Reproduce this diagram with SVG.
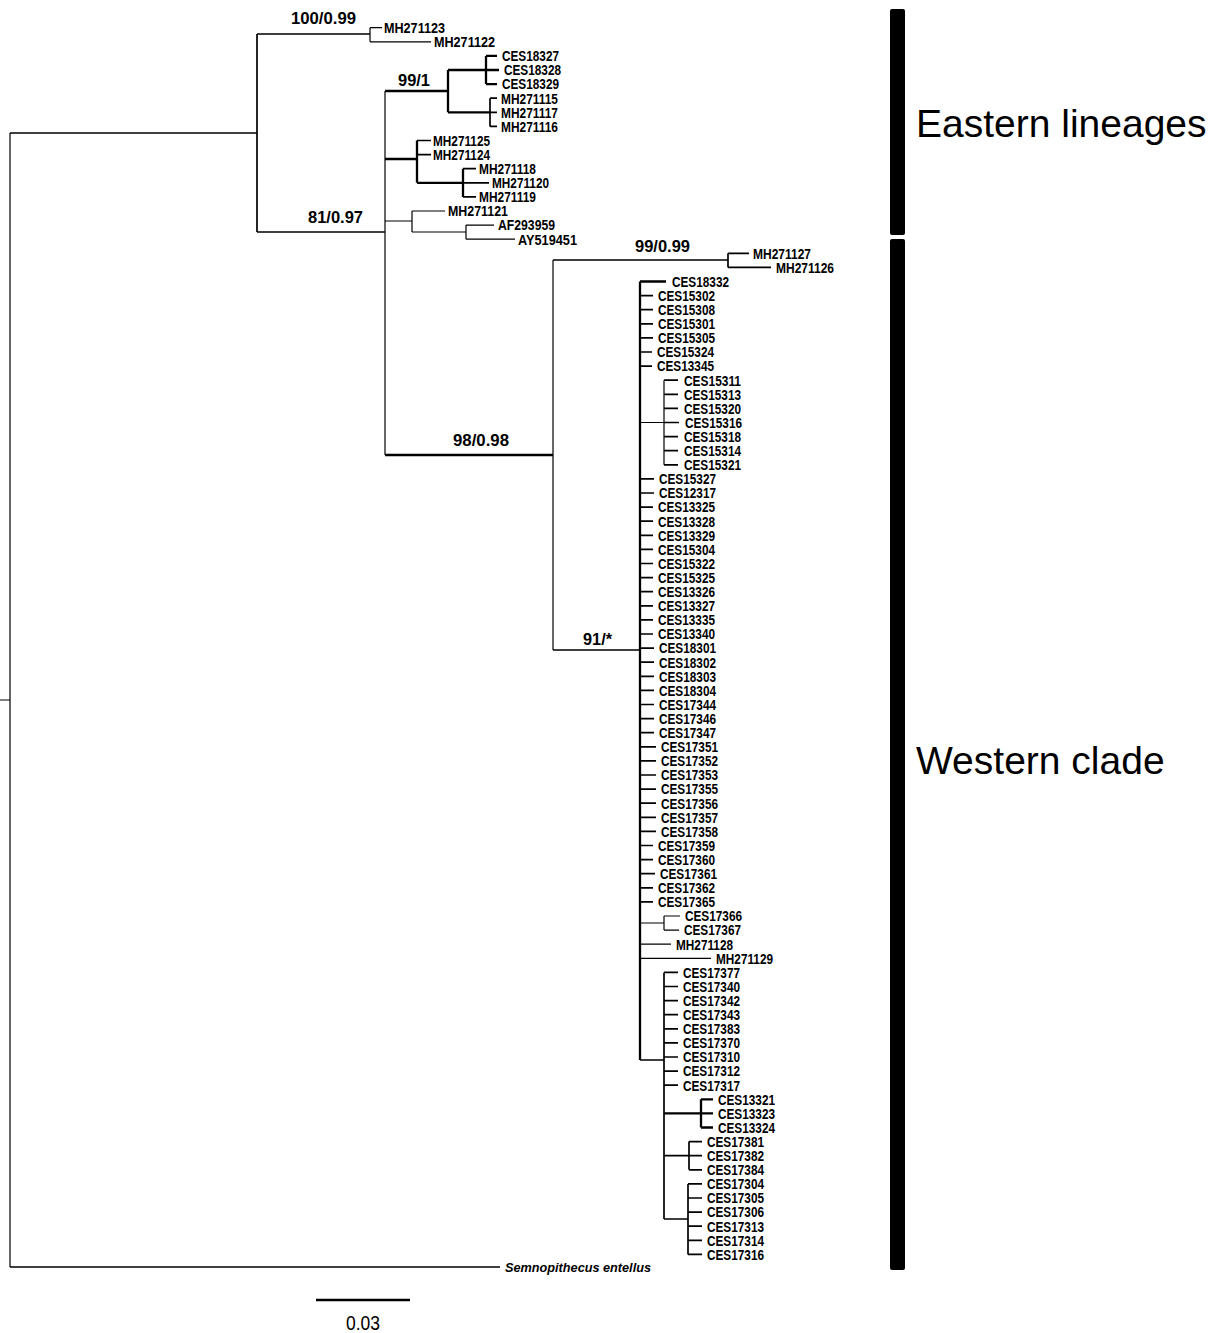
<svg xmlns="http://www.w3.org/2000/svg" width="1218" height="1333" viewBox="0 0 1218 1333">
<style>
.b{fill:none;stroke:#000;stroke-width:1.7}
.t{fill:none;stroke:#000;stroke-width:1.2}
.k{fill:none;stroke:#000;stroke-width:2.3}
.lf{font-family:"Liberation Sans Narrow","Liberation Sans",Arial,sans-serif;font-weight:bold;font-size:14.5px;fill:#000}
.bs{font-family:"Liberation Sans Narrow","Liberation Sans",Arial,sans-serif;font-weight:bold;font-size:16.5px;fill:#000}
.cl{font-family:"Liberation Sans",Arial,sans-serif;font-size:39px;fill:#000}
.sp{font-family:"Liberation Sans Narrow","Liberation Sans",Arial,sans-serif;font-weight:bold;font-style:italic;font-size:13.5px;fill:#000}
.sc{font-family:"Liberation Sans Narrow","Liberation Sans",Arial,sans-serif;font-size:20px;fill:#000}
</style>
<rect width="1218" height="1333" fill="#fff"/>
<g id="connectors">
<path class="t" d="M0 700H10M10 133V1267"/>
<path class="b" d="M10 133H257M10 1267H500M257 34V232M257 34H370M257 232H385"/>
<path class="t" d="M370 27.7V41.8M370 27.7H382M370 41.8H431"/>
<path class="t" d="M385 91V455"/>
<path class="k" d="M385 91H448M448 70V112.3M448 70H486M448 112.3H490M486 55.9V84.1M486 55.9H497M486 70H499M486 84.1H497"/>
<path class="b" d="M490 98.2V126.4M490 98.2H497M490 112.3H497M490 126.4H497"/>
<path class="k" d="M385 159H417M417 140.5V182.8M417 182.8H463M463 168.7V196.9"/>
<path class="b" d="M417 140.5H431M417 154.6H431M463 168.7H476M463 182.8H489M463 196.9H476"/>
<path class="t" d="M385 221H412M412 211V232M412 211H445M412 232H466M466 225.1V239.2M466 225.1H494M466 239.2H515"/>
<path class="k" d="M385 455H553"/>
<path class="t" d="M553 260V650"/>
<path class="b" d="M553 260H728M553 650H640M728 253.3V267.4M728 253.3H749M728 267.4H771"/>
<path class="k" d="M640 281.5V1060M640 281.5H666"/>
<path class="b" d="M640 295.6H653M640 309.7H653M640 323.8H653M640 337.9H653M640 352H652M640 366.1H652"/>
<path class="t" d="M640 422.5H664M664 380.2V464.8"/>
<path class="b" d="M664 380.2H678M664 394.3H678M664 408.4H678M664 422.5H679M664 436.6H678M664 450.7H678M664 464.8H678"/>
<path class="b" d="M640 478.9H654M640 493H654M640 507.1H653M640 521.2H653M640 535.3H653M640 549.4H653M640 563.5H653M640 577.6H653M640 591.7H653M640 605.8H653M640 619.9H653M640 634H653M640 648.1H654M640 662.2H654M640 676.3H654M640 690.4H654M640 704.5H654M640 718.6H654M640 732.7H654M640 746.8H656M640 760.9H656M640 775H656M640 789.1H656M640 803.2H656M640 817.3H656M640 831.4H656M640 845.5H653M640 859.6H653M640 873.7H655M640 887.8H653M640 901.9H653"/>
<path class="t" d="M640 923H664M664 916V930.1M664 916H680M664 930.1H679"/>
<path class="t" d="M640 944.2H671M640 958.3H711"/>
<path class="b" d="M640 1060H664M664 972.4V1219"/>
<path class="b" d="M664 972.4H678M664 986.5H678M664 1000.6H678M664 1014.7H678M664 1028.8H678M664 1042.9H678M664 1057H678M664 1071.1H678M664 1085.2H678"/>
<path class="k" d="M664 1113.4H701M701 1099.3V1127.5M701 1099.3H713M701 1113.4H713M701 1127.5H713"/>
<path class="b" d="M664 1155.7H689M689 1141.6V1169.8M689 1141.6H702M689 1155.7H702M689 1169.8H702"/>
<path class="b" d="M664 1219H688M688 1183.9V1254.4M688 1183.9H702M688 1198H702M688 1212.1H702M688 1226.2H702M688 1240.3H702M688 1254.4H702"/>
<path class="k" d="M316 1300H410"/>
</g>
<g id="support-values">
<text class="bs" x="291" y="24" textLength="65" lengthAdjust="spacingAndGlyphs">100/0.99</text>
<text class="bs" x="398" y="86" textLength="32" lengthAdjust="spacingAndGlyphs">99/1</text>
<text class="bs" x="308" y="223" textLength="55" lengthAdjust="spacingAndGlyphs">81/0.97</text>
<text class="bs" x="635" y="252" textLength="55" lengthAdjust="spacingAndGlyphs">99/0.99</text>
<text class="bs" x="453" y="446" textLength="56" lengthAdjust="spacingAndGlyphs">98/0.98</text>
<text class="bs" x="583" y="645" textLength="29" lengthAdjust="spacingAndGlyphs">91/*</text>
</g>
<g id="leaves">
<g id="n-MH271123"><text class="lf" x="384" y="33" textLength="61" lengthAdjust="spacingAndGlyphs">MH271123</text></g>
<g id="n-MH271122"><text class="lf" x="434" y="47.1" textLength="61" lengthAdjust="spacingAndGlyphs">MH271122</text></g>
<g id="n-CES18327"><text class="lf" x="502" y="61.2" textLength="57" lengthAdjust="spacingAndGlyphs">CES18327</text></g>
<g id="n-CES18328"><text class="lf" x="504" y="75.3" textLength="57" lengthAdjust="spacingAndGlyphs">CES18328</text></g>
<g id="n-CES18329"><text class="lf" x="502" y="89.4" textLength="57" lengthAdjust="spacingAndGlyphs">CES18329</text></g>
<g id="n-MH271115"><text class="lf" x="501" y="103.5" textLength="57" lengthAdjust="spacingAndGlyphs">MH271115</text></g>
<g id="n-MH271117"><text class="lf" x="501" y="117.6" textLength="57" lengthAdjust="spacingAndGlyphs">MH271117</text></g>
<g id="n-MH271116"><text class="lf" x="501" y="131.7" textLength="57" lengthAdjust="spacingAndGlyphs">MH271116</text></g>
<g id="n-MH271125"><text class="lf" x="433" y="145.8" textLength="57" lengthAdjust="spacingAndGlyphs">MH271125</text></g>
<g id="n-MH271124"><text class="lf" x="433" y="159.9" textLength="57" lengthAdjust="spacingAndGlyphs">MH271124</text></g>
<g id="n-MH271118"><text class="lf" x="479" y="174" textLength="57" lengthAdjust="spacingAndGlyphs">MH271118</text></g>
<g id="n-MH271120"><text class="lf" x="492" y="188.1" textLength="57" lengthAdjust="spacingAndGlyphs">MH271120</text></g>
<g id="n-MH271119"><text class="lf" x="479" y="202.2" textLength="57" lengthAdjust="spacingAndGlyphs">MH271119</text></g>
<g id="n-MH271121"><text class="lf" x="448" y="216.3" textLength="60" lengthAdjust="spacingAndGlyphs">MH271121</text></g>
<g id="n-AF293959"><text class="lf" x="498" y="230.4" textLength="57" lengthAdjust="spacingAndGlyphs">AF293959</text></g>
<g id="n-AY519451"><text class="lf" x="518" y="244.5" textLength="59" lengthAdjust="spacingAndGlyphs">AY519451</text></g>
<g id="n-MH271127"><text class="lf" x="753" y="258.6" textLength="58" lengthAdjust="spacingAndGlyphs">MH271127</text></g>
<g id="n-MH271126"><text class="lf" x="776" y="272.7" textLength="58" lengthAdjust="spacingAndGlyphs">MH271126</text></g>
<g id="n-CES18332"><text class="lf" x="672" y="286.8" textLength="57" lengthAdjust="spacingAndGlyphs">CES18332</text></g>
<g id="n-CES15302"><text class="lf" x="658" y="300.9" textLength="57" lengthAdjust="spacingAndGlyphs">CES15302</text></g>
<g id="n-CES15308"><text class="lf" x="658" y="315" textLength="57" lengthAdjust="spacingAndGlyphs">CES15308</text></g>
<g id="n-CES15301"><text class="lf" x="658" y="329.1" textLength="57" lengthAdjust="spacingAndGlyphs">CES15301</text></g>
<g id="n-CES15305"><text class="lf" x="658" y="343.2" textLength="57" lengthAdjust="spacingAndGlyphs">CES15305</text></g>
<g id="n-CES15324"><text class="lf" x="657" y="357.3" textLength="57" lengthAdjust="spacingAndGlyphs">CES15324</text></g>
<g id="n-CES13345"><text class="lf" x="657" y="371.4" textLength="57" lengthAdjust="spacingAndGlyphs">CES13345</text></g>
<g id="n-CES15311"><text class="lf" x="684" y="385.5" textLength="57" lengthAdjust="spacingAndGlyphs">CES15311</text></g>
<g id="n-CES15313"><text class="lf" x="684" y="399.6" textLength="57" lengthAdjust="spacingAndGlyphs">CES15313</text></g>
<g id="n-CES15320"><text class="lf" x="684" y="413.7" textLength="57" lengthAdjust="spacingAndGlyphs">CES15320</text></g>
<g id="n-CES15316"><text class="lf" x="685" y="427.8" textLength="57" lengthAdjust="spacingAndGlyphs">CES15316</text></g>
<g id="n-CES15318"><text class="lf" x="684" y="441.9" textLength="57" lengthAdjust="spacingAndGlyphs">CES15318</text></g>
<g id="n-CES15314"><text class="lf" x="684" y="456" textLength="57" lengthAdjust="spacingAndGlyphs">CES15314</text></g>
<g id="n-CES15321"><text class="lf" x="684" y="470.1" textLength="57" lengthAdjust="spacingAndGlyphs">CES15321</text></g>
<g id="n-CES15327"><text class="lf" x="659" y="484.2" textLength="57" lengthAdjust="spacingAndGlyphs">CES15327</text></g>
<g id="n-CES12317"><text class="lf" x="659" y="498.3" textLength="57" lengthAdjust="spacingAndGlyphs">CES12317</text></g>
<g id="n-CES13325"><text class="lf" x="658" y="512.4" textLength="57" lengthAdjust="spacingAndGlyphs">CES13325</text></g>
<g id="n-CES13328"><text class="lf" x="658" y="526.5" textLength="57" lengthAdjust="spacingAndGlyphs">CES13328</text></g>
<g id="n-CES13329"><text class="lf" x="658" y="540.6" textLength="57" lengthAdjust="spacingAndGlyphs">CES13329</text></g>
<g id="n-CES15304"><text class="lf" x="658" y="554.7" textLength="57" lengthAdjust="spacingAndGlyphs">CES15304</text></g>
<g id="n-CES15322"><text class="lf" x="658" y="568.8" textLength="57" lengthAdjust="spacingAndGlyphs">CES15322</text></g>
<g id="n-CES15325"><text class="lf" x="658" y="582.9" textLength="57" lengthAdjust="spacingAndGlyphs">CES15325</text></g>
<g id="n-CES13326"><text class="lf" x="658" y="597" textLength="57" lengthAdjust="spacingAndGlyphs">CES13326</text></g>
<g id="n-CES13327"><text class="lf" x="658" y="611.1" textLength="57" lengthAdjust="spacingAndGlyphs">CES13327</text></g>
<g id="n-CES13335"><text class="lf" x="658" y="625.2" textLength="57" lengthAdjust="spacingAndGlyphs">CES13335</text></g>
<g id="n-CES13340"><text class="lf" x="658" y="639.3" textLength="57" lengthAdjust="spacingAndGlyphs">CES13340</text></g>
<g id="n-CES18301"><text class="lf" x="659" y="653.4" textLength="57" lengthAdjust="spacingAndGlyphs">CES18301</text></g>
<g id="n-CES18302"><text class="lf" x="659" y="667.5" textLength="57" lengthAdjust="spacingAndGlyphs">CES18302</text></g>
<g id="n-CES18303"><text class="lf" x="659" y="681.6" textLength="57" lengthAdjust="spacingAndGlyphs">CES18303</text></g>
<g id="n-CES18304"><text class="lf" x="659" y="695.7" textLength="57" lengthAdjust="spacingAndGlyphs">CES18304</text></g>
<g id="n-CES17344"><text class="lf" x="659" y="709.8" textLength="57" lengthAdjust="spacingAndGlyphs">CES17344</text></g>
<g id="n-CES17346"><text class="lf" x="659" y="723.9" textLength="57" lengthAdjust="spacingAndGlyphs">CES17346</text></g>
<g id="n-CES17347"><text class="lf" x="659" y="738" textLength="57" lengthAdjust="spacingAndGlyphs">CES17347</text></g>
<g id="n-CES17351"><text class="lf" x="661" y="752.1" textLength="57" lengthAdjust="spacingAndGlyphs">CES17351</text></g>
<g id="n-CES17352"><text class="lf" x="661" y="766.2" textLength="57" lengthAdjust="spacingAndGlyphs">CES17352</text></g>
<g id="n-CES17353"><text class="lf" x="661" y="780.3" textLength="57" lengthAdjust="spacingAndGlyphs">CES17353</text></g>
<g id="n-CES17355"><text class="lf" x="661" y="794.4" textLength="57" lengthAdjust="spacingAndGlyphs">CES17355</text></g>
<g id="n-CES17356"><text class="lf" x="661" y="808.5" textLength="57" lengthAdjust="spacingAndGlyphs">CES17356</text></g>
<g id="n-CES17357"><text class="lf" x="661" y="822.6" textLength="57" lengthAdjust="spacingAndGlyphs">CES17357</text></g>
<g id="n-CES17358"><text class="lf" x="661" y="836.7" textLength="57" lengthAdjust="spacingAndGlyphs">CES17358</text></g>
<g id="n-CES17359"><text class="lf" x="658" y="850.8" textLength="57" lengthAdjust="spacingAndGlyphs">CES17359</text></g>
<g id="n-CES17360"><text class="lf" x="658" y="864.9" textLength="57" lengthAdjust="spacingAndGlyphs">CES17360</text></g>
<g id="n-CES17361"><text class="lf" x="660" y="879" textLength="57" lengthAdjust="spacingAndGlyphs">CES17361</text></g>
<g id="n-CES17362"><text class="lf" x="658" y="893.1" textLength="57" lengthAdjust="spacingAndGlyphs">CES17362</text></g>
<g id="n-CES17365"><text class="lf" x="658" y="907.2" textLength="57" lengthAdjust="spacingAndGlyphs">CES17365</text></g>
<g id="n-CES17366"><text class="lf" x="685" y="921.3" textLength="57" lengthAdjust="spacingAndGlyphs">CES17366</text></g>
<g id="n-CES17367"><text class="lf" x="684" y="935.4" textLength="57" lengthAdjust="spacingAndGlyphs">CES17367</text></g>
<g id="n-MH271128"><text class="lf" x="676" y="949.5" textLength="57" lengthAdjust="spacingAndGlyphs">MH271128</text></g>
<g id="n-MH271129"><text class="lf" x="716" y="963.6" textLength="57" lengthAdjust="spacingAndGlyphs">MH271129</text></g>
<g id="n-CES17377"><text class="lf" x="683" y="977.7" textLength="57" lengthAdjust="spacingAndGlyphs">CES17377</text></g>
<g id="n-CES17340"><text class="lf" x="683" y="991.8" textLength="57" lengthAdjust="spacingAndGlyphs">CES17340</text></g>
<g id="n-CES17342"><text class="lf" x="683" y="1005.9" textLength="57" lengthAdjust="spacingAndGlyphs">CES17342</text></g>
<g id="n-CES17343"><text class="lf" x="683" y="1020" textLength="57" lengthAdjust="spacingAndGlyphs">CES17343</text></g>
<g id="n-CES17383"><text class="lf" x="683" y="1034.1" textLength="57" lengthAdjust="spacingAndGlyphs">CES17383</text></g>
<g id="n-CES17370"><text class="lf" x="683" y="1048.2" textLength="57" lengthAdjust="spacingAndGlyphs">CES17370</text></g>
<g id="n-CES17310"><text class="lf" x="683" y="1062.3" textLength="57" lengthAdjust="spacingAndGlyphs">CES17310</text></g>
<g id="n-CES17312"><text class="lf" x="683" y="1076.4" textLength="57" lengthAdjust="spacingAndGlyphs">CES17312</text></g>
<g id="n-CES17317"><text class="lf" x="683" y="1090.5" textLength="57" lengthAdjust="spacingAndGlyphs">CES17317</text></g>
<g id="n-CES13321"><text class="lf" x="718" y="1104.6" textLength="57" lengthAdjust="spacingAndGlyphs">CES13321</text></g>
<g id="n-CES13323"><text class="lf" x="718" y="1118.7" textLength="57" lengthAdjust="spacingAndGlyphs">CES13323</text></g>
<g id="n-CES13324"><text class="lf" x="718" y="1132.8" textLength="57" lengthAdjust="spacingAndGlyphs">CES13324</text></g>
<g id="n-CES17381"><text class="lf" x="707" y="1146.9" textLength="57" lengthAdjust="spacingAndGlyphs">CES17381</text></g>
<g id="n-CES17382"><text class="lf" x="707" y="1161" textLength="57" lengthAdjust="spacingAndGlyphs">CES17382</text></g>
<g id="n-CES17384"><text class="lf" x="707" y="1175.1" textLength="57" lengthAdjust="spacingAndGlyphs">CES17384</text></g>
<g id="n-CES17304"><text class="lf" x="707" y="1189.2" textLength="57" lengthAdjust="spacingAndGlyphs">CES17304</text></g>
<g id="n-CES17305"><text class="lf" x="707" y="1203.3" textLength="57" lengthAdjust="spacingAndGlyphs">CES17305</text></g>
<g id="n-CES17306"><text class="lf" x="707" y="1217.4" textLength="57" lengthAdjust="spacingAndGlyphs">CES17306</text></g>
<g id="n-CES17313"><text class="lf" x="707" y="1231.5" textLength="57" lengthAdjust="spacingAndGlyphs">CES17313</text></g>
<g id="n-CES17314"><text class="lf" x="707" y="1245.6" textLength="57" lengthAdjust="spacingAndGlyphs">CES17314</text></g>
<g id="n-CES17316"><text class="lf" x="707" y="1259.7" textLength="57" lengthAdjust="spacingAndGlyphs">CES17316</text></g>
<g id="n-outgroup"><text class="sp" x="505" y="1272" textLength="146" lengthAdjust="spacingAndGlyphs">Semnopithecus entellus</text></g>
</g>
<g id="scale-bar"><text class="sc" x="346" y="1330" textLength="34" lengthAdjust="spacingAndGlyphs">0.03</text></g>
<g id="clade-eastern">
<rect x="890" y="9" width="15" height="226" rx="2" fill="#000"/>
<text class="cl" x="916" y="137">Eastern lineages</text>
</g>
<g id="clade-western">
<rect x="890" y="239" width="15" height="1031" rx="2" fill="#000"/>
<text class="cl" x="916" y="774">Western clade</text>
</g>
</svg>
